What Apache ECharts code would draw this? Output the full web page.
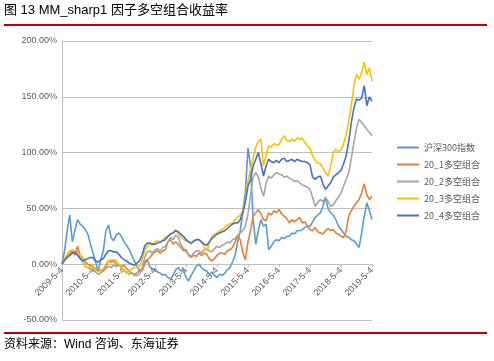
<!DOCTYPE html>
<html><head><meta charset="utf-8">
<script src="https://cdn.jsdelivr.net/npm/echarts@6/dist/echarts.min.js"></script>
<style>html,body{margin:0;padding:0;background:#fff}#c{width:494px;height:361px}</style>
</head><body><div id="c"></div>
<script>
// monthly dates 2009-5-4 .. 2019-5-4
const categories = [];
for (let y = 2009, m = 5; y < 2019 || (y === 2019 && m <= 5); ) {
  categories.push(y + '-' + m + '-4');
  m++; if (m > 12) { m = 1; y++; }
}
const seriesNames = ['沪深300指数', '20_1多空组合', '20_2多空组合', '20_3多空组合', '20_4多空组合'];
const yTicks = [-0.5, 0, 0.5, 1, 1.5, 2];
// values in %
const hs300 = [0,12,30,44,20,30,40,36,34,31,27,18,10,2,-6,4,12,30,35,24,21,26,28,25,20,17,13,8,3,-2,-6,-4,2,4,-2,-5,-4,-7,-8,-10,-9,-12,-13,-10,-5,-3,-6,-5,-12,-15,-10,-6,-2,0,-3,-5,-6,-9,-7,-10,-12,-9,-10,-8,-5,-3,2,8,20,30,48,65,104,88,40,18,30,40,34,36,13,16,20,22,21,24,23,25,25,28,27,30,30,31,33,34,34,38,42,44,46,52,60,50,46,44,40,34,31,28,25,24,22,21,18,15,28,43,55,48,40];
const g1 = [0,4,8,10,12,8,16,8,6,2,0,-1,-2,-4,-6,-5,-6,-2,3,2,3,0,-1,-2,-1,-4,-6,-8,-9,-8,-6,-6,0,4,6,9,11,12,10,12,13,20,22,18,20,18,15,12,13,8,6,8,7,10,8,10,9,5,3,5,8,10,10,9,12,13,15,20,25,22,10,4,20,30,43,46,49,45,40,39,46,44,48,46,49,45,43,41,37,40,38,40,42,37,38,34,31,30,33,29,28,27,30,32,30,31,28,27,25,24,30,43,48,52,55,58,64,72,62,58,61];
const g2 = [0,3,6,8,10,11,12,6,2,-2,-3,-4,-4,-7,-9,-8,-6,-4,-2,-3,-1,-2,-1,-3,-5,-7,-9,-8,-10,-10,-9,-4,6,11,12,10,13,14,12,15,16,20,24,22,26,24,18,14,11,9,7,10,12,12,10,13,14,12,11,14,16,15,17,18,20,19,22,23,26,28,30,34,45,62,78,82,78,68,61,72,79,77,80,82,81,80,78,79,77,76,74,75,73,71,70,69,67,60,52,55,58,56,60,56,52,53,57,60,64,70,76,82,95,109,122,130,127,124,121,118,115];
const g3 = [0,5,9,12,13,11,10,9,5,-2,-3,-2,-2,-5,-7,-6,-4,0,3,4,4,3,0,-4,-6,-8,-6,-4,-3,-3,-2,4,12,16,18,17,20,21,19,22,24,25,27,28,31,27,24,22,21,20,18,20,22,22,20,16,12,18,25,27,28,30,31,33,35,36,37,40,42,44,48,58,75,85,95,105,110,112,88,98,106,105,108,107,107,112,115,111,110,112,110,113,112,113,109,106,104,97,93,91,90,86,82,79,88,100,103,101,102,108,116,128,142,160,170,166,172,181,170,176,164];
const g4 = [0,4,6,8,10,11,8,5,3,4,5,6,6,3,2,4,5,9,12,12,11,11,9,6,4,3,1,0,-1,1,3,8,16,19,19,18,18,19,20,21,22,25,27,28,30,29,27,25,22,20,19,21,22,22,20,18,17,20,23,25,27,28,29,30,32,34,36,37,37,40,46,56,70,76,88,94,100,90,79,88,94,92,91,93,91,94,95,92,93,94,92,94,93,92,92,91,89,78,76,78,79,72,67,70,73,78,80,82,84,90,97,110,127,140,148,147,149,160,142,150,146];
const colors = ['#5B9BD5', '#ED7D31', '#A5A5A5', '#FFC000', '#4472C4'];
const values = [hs300, g1, g2, g3, g4];

const chart = echarts.init(document.getElementById('c'), null, {renderer: 'canvas'});
const txtColor = '#595959';
chart.setOption({
  animation: false,
  backgroundColor: '#fff',
  graphic: [
    {type: 'text', left: 4, top: 4, style: {text: '图 13 MM_sharp1 因子多空组合收益率', fontSize: 13, fill: '#000', fontFamily: 'Liberation Sans, Noto Sans CJK SC, sans-serif'}},
    {type: 'rect', shape: {x: 4, y: 24, width: 483, height: 2}, style: {fill: '#C00000'}},
    {type: 'rect', shape: {x: 4, y: 332, width: 483, height: 2}, style: {fill: '#C00000'}},
    {type: 'text', left: 4, top: 339, style: {text: '资料来源：Wind 咨询、东海证券', fontSize: 12, fill: '#000', fontFamily: 'Liberation Sans, Noto Sans CJK SC, sans-serif'}}
  ],
  color: colors,
  legend: {
    orient: 'vertical', left: 392, top: 138, itemGap: 8, itemWidth: 22, itemHeight: 2,
    icon: 'rect',
    textStyle: {fontSize: 9, color: txtColor, fontFamily: 'Noto Sans CJK SC, sans-serif'},
    data: seriesNames
  },
  grid: {left: 62, right: 122, top: 41, bottom: 41, containLabel: false},
  xAxis: {
    type: 'category', data: categories, boundaryGap: false,
    position: 'bottom', offset: -56,
    axisLine: {onZero: false, lineStyle: {color: '#BFBFBF', width: 1}},
    axisTick: {show: true, interval: 11, length: 3, lineStyle: {color: '#BFBFBF'}},
    axisLabel: {interval: 11, rotate: 45, fontSize: 9, color: txtColor, margin: 5, fontFamily: 'Liberation Sans, sans-serif'},
    splitLine: {show: false}
  },
  yAxis: {
    type: 'value', min: yTicks[0], max: yTicks[yTicks.length - 1], interval: 0.5,
    axisLine: {show: true, lineStyle: {color: '#BFBFBF'}},
    axisTick: {show: false},
    axisLabel: {fontSize: 9, color: txtColor, margin: 5, fontFamily: 'Liberation Sans, sans-serif',
      formatter: v => (v * 100).toFixed(2) + '%'},
    splitLine: {lineStyle: {color: '#BFBFBF', width: 1}}
  },
  series: seriesNames.map((n, i) => ({
    name: n, type: 'line', showSymbol: false, symbol: 'none',
    lineStyle: {width: 1.6, color: colors[i]},
    data: values[i].map(v => v / 100)
  }))
});
</script></body></html>
